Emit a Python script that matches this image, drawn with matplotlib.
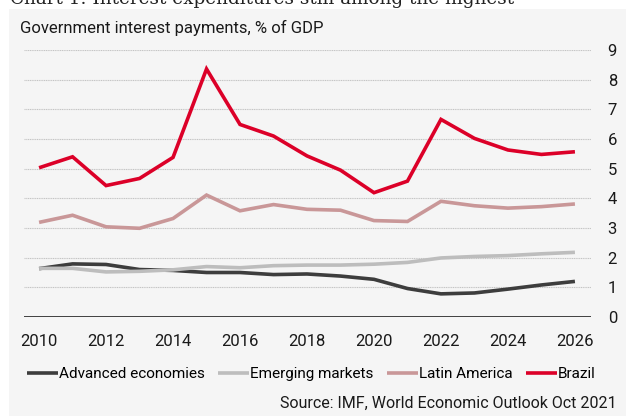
import matplotlib
matplotlib.use("Agg")
import matplotlib.pyplot as plt
from matplotlib.patches import Rectangle

years = list(range(2010, 2027))
advanced = [1.63, 1.79, 1.77, 1.60, 1.57, 1.50, 1.50, 1.43, 1.45, 1.38, 1.27, 0.96, 0.78, 0.81, 0.94, 1.08, 1.20]
emerging = [1.64, 1.64, 1.52, 1.54, 1.59, 1.70, 1.66, 1.73, 1.75, 1.75, 1.78, 1.84, 1.99, 2.04, 2.07, 2.13, 2.18]
latam = [3.19, 3.43, 3.04, 2.99, 3.32, 4.11, 3.58, 3.79, 3.63, 3.60, 3.25, 3.22, 3.90, 3.75, 3.67, 3.72, 3.81]
brazil = [5.03, 5.40, 4.43, 4.67, 5.38, 8.36, 6.49, 6.10, 5.43, 4.95, 4.19, 4.58, 6.66, 6.02, 5.63, 5.48, 5.57]

series_names = ["Advanced economies", "Emerging markets", "Latin America", "Brazil"]
x_ticks = list(range(2010, 2027, 2))
y_ticks = list(range(0, 10))

title = "Chart 1: Interest expenditures still among the highest"
subtitle = "Government interest payments, % of GDP"
source = "Source: IMF, World Economic Outlook Oct 2021"

colors = ["#3d3d3d", "#bdbdbd", "#c99798", "#dc0028"]

plt.rcParams["font.family"] = ["Roboto", "DejaVu Sans"]

W, H = 626, 416
fig = plt.figure(figsize=(W / 100, H / 100), dpi=100)
fig.patch.set_facecolor("white")

# grey panel behind the chart
fig.patches.append(Rectangle((9 / W, 0), 1 - 9 / W, (H - 9) / H,
                             transform=fig.transFigure, facecolor="#f5f5f5",
                             edgecolor="none", zorder=-5))

fig.text(10 / W, 1 - 4 / H, title, family="DejaVu Serif", fontsize=13.2,
         color="#222222", va="baseline", ha="left")

ax = fig.add_axes([24 / W, 1 - 317 / H, (591 - 24) / W, (317 - 50) / H])
ax.set_facecolor("none")
ax.set_zorder(2)

for vals, col, name in zip([advanced, emerging, latam, brazil], colors, series_names):
    ax.plot(years, vals, color=col, lw=2.6, label=name, solid_capstyle="butt",
            solid_joinstyle="miter", zorder=3)

ax.set_ylim(0, 9)
ax.set_xlim(2009.55, 2026.48)
ax.set_yticks(y_ticks)
ax.set_xticks(x_ticks)
ax.yaxis.tick_right()
ax.tick_params(axis="both", length=0, labelsize=12, colors="#1a1a1a")
ax.tick_params(axis="y", pad=12)
ax.tick_params(axis="x", pad=12)
for t in y_ticks[1:]:
    ax.axhline(t, color="#c4c4c4", lw=0.8, ls=(0, (1, 0.6)), zorder=1)
ax.axhline(0, color="#333333", lw=1.3, zorder=2)
for s in ax.spines.values():
    s.set_visible(False)

fig.text(20 / W, 1 - 28 / H, subtitle, fontsize=12, color="#1a1a1a",
         va="center", ha="left")

leg = fig.legend(loc="center left", bbox_to_anchor=(27 / W, 1 - 374 / H), ncol=4,
                 frameon=False, fontsize=11, handlelength=2.0,
                 handletextpad=0.07, columnspacing=0.9, borderpad=0,
                 borderaxespad=0)
for line in leg.get_lines():
    line.set_linewidth(2.6)

fig.text(617 / W, 1 - 403 / H, source, fontsize=11.5, color="#1a1a1a",
         va="center", ha="right")

fig.savefig("out.png", dpi=100)
